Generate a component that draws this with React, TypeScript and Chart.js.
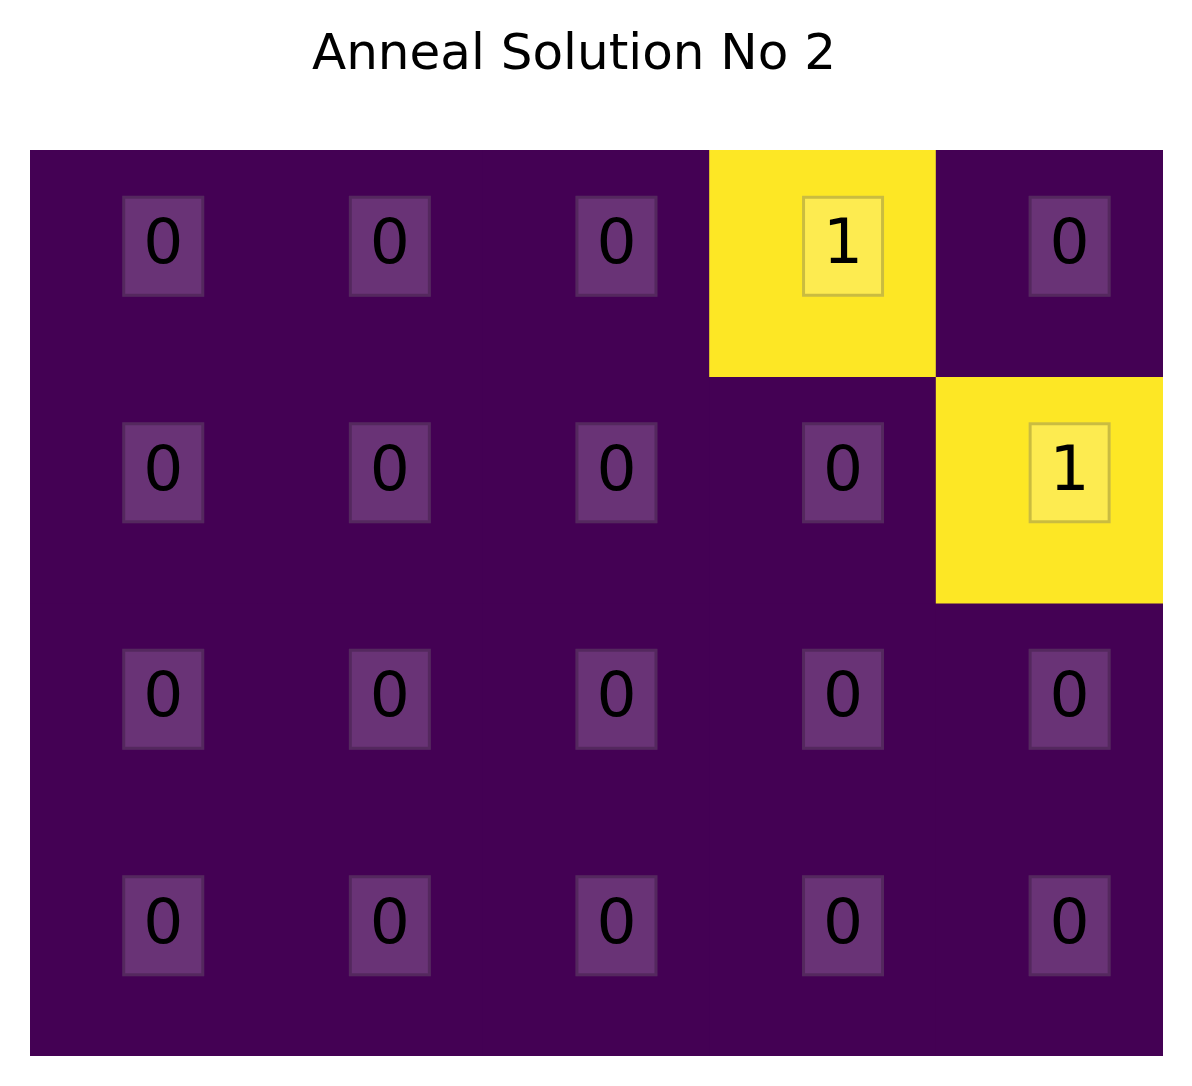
import React, { useEffect, useRef } from "react";
import { Chart, registerables } from "chart.js";

Chart.register(...registerables);

const title = "Anneal Solution No 2";
const columns = ["0", "1", "2", "3", "4"];
const rowNames = ["0", "1", "2", "3"];
const row0 = [0, 0, 0, 1, 0];
const row1 = [0, 0, 0, 0, 1];
const row2 = [0, 0, 0, 0, 0];
const row3 = [0, 0, 0, 0, 0];
const grid = [row0, row1, row2, row3];

const LOW = "#440154";
const HIGH = "#fde725";
const FONT = "'DejaVu Sans', sans-serif";

const titlePlugin = {
  id: "figTitle",
  afterDraw(chart: any) {
    const { ctx } = chart;
    ctx.save();
    ctx.fillStyle = "#000000";
    ctx.font = `50px ${FONT}`;
    ctx.textAlign = "center";
    ctx.textBaseline = "alphabetic";
    ctx.fillText(title, 574, 69);
    ctx.restore();
  },
};

const labelPlugin = {
  id: "cellLabels",
  afterDatasetsDraw(chart: any) {
    const { ctx, scales } = chart;
    const xs = scales.x;
    const ys = scales.y;
    const cellW = xs.width / columns.length;
    const cellH = ys.height / rowNames.length;
    ctx.save();
    grid.forEach((row, r) => {
      row.forEach((v, c) => {
        const cx = xs.getPixelForValue(c) + cellW * 0.088;
        const cy = ys.getPixelForValue(r + 0.5) - cellH * 0.075;
        const bw = 82;
        const bh = 101;
        const lw = 3;
        ctx.fillStyle = "rgba(255,255,255,0.2)";
        ctx.fillRect(cx - bw / 2, cy - bh / 2, bw, bh);
        ctx.strokeStyle = "rgba(0,0,0,0.2)";
        ctx.lineWidth = lw;
        ctx.strokeRect(cx - bw / 2 + lw / 2, cy - bh / 2 + lw / 2, bw - lw, bh - lw);
        ctx.fillStyle = "#000000";
        ctx.font = `63px ${FONT}`;
        ctx.textAlign = "center";
        ctx.textBaseline = "alphabetic";
        ctx.fillText(String(v), cx, cy + 17);
      });
    });
    ctx.restore();
  },
};

export default function App() {
  const ref = useRef<HTMLCanvasElement | null>(null);
  useEffect(() => {
    document.body.style.margin = "0";
    const canvas = ref.current!;
    const chart = new Chart(canvas, {
      type: "bar",
      data: {
        labels: columns,
        datasets: grid.map((row, r) => ({
          label: rowNames[r],
          data: row.map(() => [r, r + 1]) as any,
          backgroundColor: row.map((v) => (v === 1 ? HIGH : LOW)),
          borderWidth: 0,
          inflateAmount: 0.6,
          categoryPercentage: 1,
          barPercentage: 1,
          grouped: false,
        })),
      },
      options: {
        responsive: false,
        animation: false,
        devicePixelRatio: 1,
        layout: { padding: { left: 30, right: 29, top: 150, bottom: 30 } },
        scales: {
          x: { type: "category", display: false, offset: true, grid: { display: false } },
          y: { type: "linear", display: false, min: 0, max: 4, reverse: true, grid: { display: false } },
        },
        plugins: {
          legend: { display: false },
          tooltip: { enabled: false },
          title: { display: false },
        },
      },
      plugins: [labelPlugin, titlePlugin],
    });
    return () => chart.destroy();
  }, []);
  return (
    <div style={{ width: 1192, height: 1086 }}>
      <canvas ref={ref} width={1192} height={1086} style={{ display: "block", width: 1192, height: 1086 }} />
    </div>
  );
}
